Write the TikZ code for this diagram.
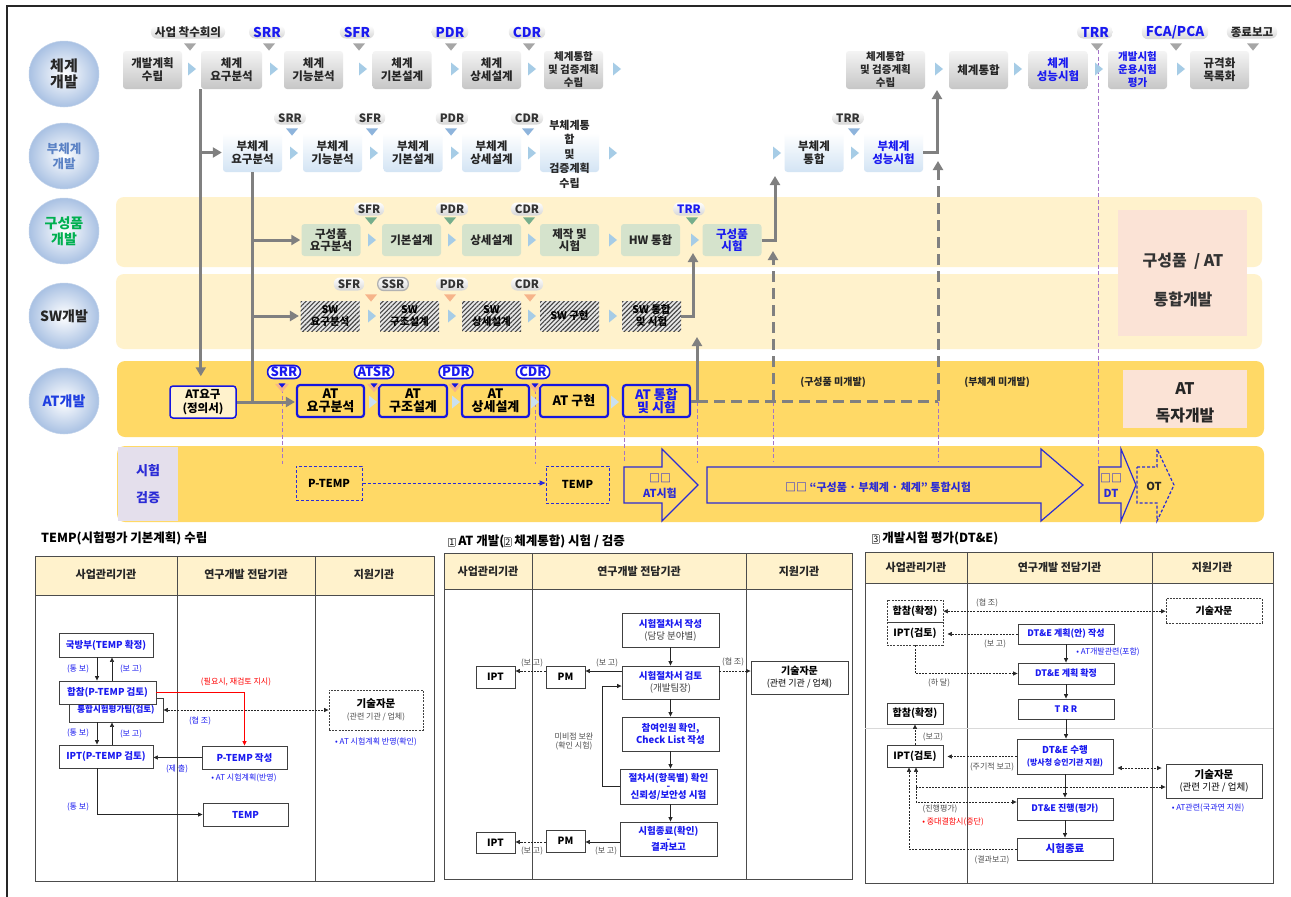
\documentclass[tikz,border=0pt]{standalone}
\usepackage{fontspec}
\setmainfont{Noto Sans CJK KR}
\usetikzlibrary{arrows.meta,patterns.meta,shapes.geometric}
\setlength{\fboxsep}{0.6pt}
\setlength{\fboxrule}{0.5pt}
\definecolor{bandL}{HTML}{FFF2CC}
\definecolor{bandD}{HTML}{FFD966}
\definecolor{pinkB}{HTML}{FBE3D6}
\definecolor{lav}{HTML}{E4DFEC}
\definecolor{tblue}{HTML}{1A1AF0}
\definecolor{ablue}{HTML}{2B2BD6}
\definecolor{bdblue}{HTML}{1515E0}
\definecolor{gline}{HTML}{808080}
\definecolor{purp}{HTML}{A474C8}
\definecolor{chev}{HTML}{A6CCE6}
\definecolor{triG}{HTML}{A6A6A6}
\definecolor{triB}{HTML}{8EB4DC}
\definecolor{triGr}{HTML}{76AE8C}
\definecolor{triO}{HTML}{F6B48A}
\definecolor{grn}{HTML}{D5E3CC}
\definecolor{lblue}{HTML}{D3E4F4}
\definecolor{hdr}{HTML}{FFF2CC}
\definecolor{circB}{HTML}{A9C1E3}
\definecolor{rtop}{HTML}{F4F4F4}
\definecolor{rbot}{HTML}{C6C6C6}
\newcommand\fs[2]{\fontsize{#1}{#2}\selectfont}
\newcommand\dtri[4]{\fill[#4] (#1-#3,#2-0.6*#3) -- (#1+#3,#2-0.6*#3) -- (#1,#2+0.6*#3) -- cycle;}
\newcommand\rchev[3]{\fill[#3] (#1-4,#2-6.5) -- (#1+4,#2) -- (#1-4,#2+6.5) -- cycle;}
\tikzset{
  rbase/.style={rounded corners=3pt, minimum width=59pt, inner xsep=1pt, inner ysep=0pt, align=center},
  r1box/.style={rbase, minimum height=38pt, top color=rtop, bottom color=rbot, font=\fs{11.5}{13}\bfseries, text=black!85},
  r2box/.style={rbase, minimum height=39pt, top color=white, bottom color=lblue, font=\fs{11.5}{13}\bfseries, text=black!85},
  r3box/.style={rbase, minimum height=32pt, fill=grn, font=\fs{11.5}{12.5}\bfseries, text=black!85},
  r4box/.style={rbase, rounded corners=0pt, minimum height=30pt, preaction={fill=gray!18},
     pattern={Lines[angle=45,distance=3.2pt,line width=1.1pt]}, pattern color=gray!55!black,
     font=\fs{10.5}{12}\bfseries, text=black},
  r5box/.style={rbase, minimum height=32pt, draw=bdblue, line width=2.2pt, font=\fs{13}{13.5}\bfseries, text=black},
  circ/.style={ellipse, minimum width=70pt, minimum height=66pt, inner sep=0pt, inner color=white,
     outer color=circB, draw=circB!70!white, line width=0.5pt, align=center},
  tag1/.style={rounded corners=6pt, top color=white, bottom color=gray!32, inner xsep=4pt, inner ysep=0.5pt,
     minimum height=13pt, font=\fs{13.5}{14}\bfseries, text=tblue},
  tag2/.style={tag1, font=\fs{11.5}{12}\bfseries, text=black!80},
  tag5/.style={rounded corners=6pt, draw=bdblue, line width=1.6pt, fill=white, inner xsep=3pt, inner ysep=0.5pt,
     minimum height=13pt, font=\fs{13}{13}\bfseries, text=tblue},
  gl/.style={draw=gline, line width=3pt},
  ga/.style={gl, -{Triangle[length=9pt,width=10pt]}},
  gdl/.style={gl, dash pattern=on 11pt off 6pt},
  gd/.style={ga, dash pattern=on 11pt off 6pt},
  pl/.style={draw=purp, line width=0.8pt, dash pattern=on 4pt off 2.5pt},
  bar/.style={draw=ablue, line width=1.2pt, line join=miter},
  tbl/.style={draw=black!70, line width=1pt},
  pb/.style={draw=black!75, line width=0.9pt, fill=white, inner sep=0pt, align=center, font=\fs{9.5}{12}\bfseries, text=tblue},
  pbk/.style={pb, text=black},
  pdash/.style={pb, dash pattern=on 2pt off 1.2pt},
  lbl/.style={font=\fs{8}{9}, text=black!70},
  lblb/.style={font=\fs{8}{9}, text=tblue},
  hdrtxt/.style={font=\fs{11}{12}\bfseries, text=black!85},
  ttl/.style={anchor=west, font=\fs{12.5}{14}\bfseries, text=black},
  ta/.style={draw=black!85, line width=0.7pt, -{Triangle[length=4.5pt,width=4pt]}},
  tda/.style={ta, dash pattern=on 2pt off 1.2pt},
  tdd/.style={tda, {Triangle[length=4.5pt,width=4pt]}-{Triangle[length=4.5pt,width=4pt]}},
}
\begin{document}
\begin{tikzpicture}[x=1pt,y=-1pt, every node/.append style={inner sep=0pt, align=center}]
\fill[white] (0,0) rectangle (1291,897);
\useasboundingbox (0,0) rectangle (1291,897);
\draw[black!85, line width=2pt] (7,897) -- (7,6) -- (1291,6);

% bands
\fill[bandL, rounded corners=8pt] (116,197) rectangle (1262,267);
\fill[bandL, rounded corners=8pt] (116,274) rectangle (1262,349);
\fill[bandD, rounded corners=8pt] (117,361) rectangle (1264,437);
\fill[bandD, rounded corners=8pt] (117,446) rectangle (1264,522);
\node[fill=lav, minimum width=60pt, minimum height=74pt, font=\fs{13}{27}\bfseries, text=ablue] (VV) at (148,484) {시험\\검증};

% pink boxes
\node[fill=pinkB, minimum width=129pt, minimum height=126pt] (P1) at (1182.5,273) {};
\node[font=\fs{16}{18}\bfseries, text=black!80] (P1a) at (1183,261) {구성품 \ / AT};
\node[font=\fs{16}{18}\bfseries, text=black!80] (P1b) at (1183,299) {통합개발};
\node[fill=pinkB, minimum width=124pt, minimum height=58pt] (P2) at (1185,399) {};
\node[font=\fs{16}{18}\bfseries, text=black!85] (P2a) at (1185,389) {AT};
\node[font=\fs{16}{18}\bfseries, text=black!85] (P2b) at (1185,416) {독자개발};

% row circles
\node[circ, font=\fs{15}{16}\bfseries, text=black!85] (L1) at (64,74) {체계\\개발};
\node[circ, font=\fs{12.5}{15}\bfseries, text={rgb,255:red,91;green,130;blue,197}] (L2) at (64,156) {부체계\\개발};
\node[circ, font=\fs{14}{16}\bfseries, text={rgb,255:red,0;green,176;blue,80}] (L3) at (64,231) {구성품\\개발};
\node[circ, font=\fs{14}{16}\bfseries, text=black!85] (L4) at (64,316) {SW개발};
\node[circ, font=\fs{14}{16}\bfseries, text={rgb,255:red,31;green,63;blue,224}] (L5) at (64,401) {AT개발};

% purple dashed guide lines
\draw[pl] (282,389) -- (282,464);
\draw[pl] (535,390) -- (535,464);
\draw[pl] (624,418) -- (624,463);
\draw[pl] (697,402) -- (697,463);
\draw[pl] (773,402) -- (773,462);
\draw[pl] (938,402) -- (938,461);
\draw[pl] (1098,50) -- (1098,467);

% row 1
\node[r1box] (A1) at (152.5,70) {개발계획\\수립};
\node[r1box, minimum width=61pt] (A2) at (231.5,70) {체계\\요구분석};
\node[r1box] (A3) at (313.5,70) {체계\\기능분석};
\node[r1box] (A4) at (402,70) {체계\\기본설계};
\node[r1box] (A5) at (491.5,70) {체계\\상세설계};
\node[r1box, font=\fs{10.5}{13}\bfseries] (A6) at (573.5,70) {체계통합\\및 검증계획\\수립};
\node[r1box, minimum width=79pt, font=\fs{10.5}{13}\bfseries] (A7) at (885.5,70) {체계통합\\및 검증계획\\수립};
\node[r1box] (A8) at (978.5,70) {체계통합};
\node[r1box, text=tblue] (A9) at (1058,70) {체계\\성능시험};
\node[r1box, text=tblue, font=\fs{10.5}{13}\bfseries] (A10) at (1137.5,70) {개발시험\\운용시험\\평가};
\node[r1box] (A11) at (1219.5,70) {규격화\\목록화};
\foreach \x in {192,274,363,455,532,617,939,1018,1099,1181} {\rchev{\x}{69}{chev}}

\node[tag1, text=black!85, font=\fs{11.5}{12}\bfseries] (K0) at (188,32) {사업 착수회의};
\node[tag1] (K1) at (267,32) {SRR};
\node[tag1] (K2) at (357,32) {SFR};
\node[tag1] (K3) at (450,32) {PDR};
\node[tag1] (K4) at (527,32) {CDR};
\node[tag1] (K5) at (1095,32) {TRR};
\node[tag1] (K6) at (1175,32) {FCA/PCA};
\node[tag1, text=black!85, font=\fs{11.5}{12}\bfseries] (K7) at (1252,32) {종료보고};
\foreach \x in {190,269,359,451,529,1097,1176,1253} {\dtri{\x}{47}{6}{triG}}

% row 2
\node[r2box] (B1) at (252.5,152.5) {부체계\\요구분석};
\node[r2box] (B2) at (332.5,152.5) {부체계\\기능분석};
\node[r2box] (B3) at (413,152.5) {부체계\\기본설계};
\node[r2box] (B4) at (491.5,152.5) {부체계\\상세설계};
\node[r2box] (B5) at (569.5,152.5) {};
\node[font=\fs{11}{14.5}\bfseries, text=black!85] (B5t) at (569.5,154) {부체계통\\합\\및\\검증계획\\수립};
\node[r2box] (B6) at (814,152.5) {부체계\\통합};
\node[r2box, text=tblue] (B7) at (893.5,152.5) {부체계\\성능시험};
\foreach \x in {294,374,455,532,613,777,855} {\rchev{\x}{153}{chev}}
\node[tag2] (M1) at (290,118) {SRR};
\node[tag2] (M2) at (370,118) {SFR};
\node[tag2] (M3) at (452,118) {PDR};
\node[tag2] (M4) at (527,118) {CDR};
\node[tag2] (M5) at (848,118) {TRR};
\foreach \x in {292,372,451,528,854} {\dtri{\x}{132}{6}{triB}}

% row 3
\node[r3box] (C1) at (331,240) {구성품\\요구분석};
\node[r3box] (C2) at (411.5,240) {기본설계};
\node[r3box] (C3) at (491.5,240) {상세설계};
\node[r3box] (C4) at (569.5,240) {제작 및\\시험};
\node[r3box] (C5) at (650.5,240) {HW 통합};
\node[r3box, text=tblue] (C6) at (732,240) {구성품\\시험};
\foreach \x in {372,452,532,613,695} {\rchev{\x}{240}{chev}}
\node[tag2] (N1) at (369,209) {SFR};
\node[tag2] (N2) at (452,209) {PDR};
\node[tag2] (N3) at (527,209) {CDR};
\node[tag2, text=tblue] (N4) at (689,209) {TRR};
\foreach \x in {371,450,529,692} {\dtri{\x}{221}{6}{triGr}}

% row 4
\node[r4box] (D1) at (330,316) {SW\\요구분석};
\node[r4box] (D2) at (409.5,316) {SW\\구조설계};
\node[r4box] (D3) at (491.5,316) {SW\\상세설계};
\node[r4box] (D4) at (569.5,316) {SW 구현};
\node[r4box] (D5) at (651.5,316) {SW 통합\\및 시험};
\foreach \x in {372,452,532,613} {\rchev{\x}{316}{chev}}
\node[tag2] (O1) at (349,284) {SFR};
\node[tag2, draw=gray!60, line width=1.3pt] (O2) at (393,284) {SSR};
\node[tag2] (O3) at (452,284) {PDR};
\node[tag2] (O4) at (527,284) {CDR};
\foreach \x in {371,450,530} {\dtri{\x}{298}{6}{triO}}

% row 5
\node[r5box, line width=1.5pt, fill=bandL, minimum width=66pt, font=\fs{11.5}{14}\bfseries] (E0) at (203,402) {AT요구\\(정의서)};
\node[r5box, minimum width=67pt] (E1) at (330.5,401) {AT\\요구분석};
\node[r5box, minimum width=68pt] (E2) at (413,401) {AT\\구조설계};
\node[r5box, minimum width=67pt] (E3) at (495.5,401) {AT\\상세설계};
\node[r5box, minimum width=68pt] (E4) at (574,401) {AT 구현};
\node[r5box, minimum width=67pt, text=tblue] (E5) at (656.5,401) {AT 통합\\및 시험};
\foreach \x in {373,456,535,615} {\rchev{\x}{402}{chev!60}}
\node[tag5] (S1) at (284,372) {SRR};
\node[tag5] (S2) at (374,372) {ATSR};
\node[tag5] (S3) at (456,372) {PDR};
\node[tag5] (S4) at (533,372) {CDR};
\foreach \x in {282,374,455,535} {\dtri{\x}{388}{7}{triO}\dtri{\x}{385.5}{3.5}{bdblue}}
\node[font=\fs{10}{11}\bfseries, text=black!85] (U1) at (833,382) {(구성품 미개발)};
\node[font=\fs{10}{11}\bfseries, text=black!85] (U2) at (997,382) {(부체계 미개발)};

% grey process connectors
\coordinate (t1) at (697,337);
\coordinate (t2) at (693,253);
\coordinate (t3) at (775,176);
\coordinate (t4) at (937,90);
\coordinate (j1) at (697,401);
\coordinate (j2) at (938,401);
\coordinate (j3) at (773,401);
\coordinate (t5) at (773,251);
\coordinate (t6) at (938,161);
\draw[ga, shorten >=9pt] (A2.south west) -- (A2.south west |- E0.north);
\draw[ga, shorten >=1pt] (A2.south west |- B1.west) -- (B1.west);
\draw[gl] (B1.south) -- (B1.south |- E0.east);
\draw[ga, shorten >=1pt] (B1.south |- C1.west) -- (C1.west);
\draw[ga, shorten >=1pt] (B1.south |- D1.west) -- (D1.west);
\draw[ga, shorten >=1pt] (E0.east) -- (E0.east -| E1.west);
\draw[ga] (E5.east) -| (t1);
\draw[ga] (D5.east) -| (t2);
\draw[ga] (C6.east) -| (t3);
\draw[ga] (B7.east) -| (t4);
\draw[gdl] (j1) -- (j2);
\draw[gd] (j3) -- (t5);
\draw[gd] (j2) -- (t6);

% row 6
\node[draw=ablue, line width=1pt, dash pattern=on 3pt off 2pt, minimum width=66pt, minimum height=34pt, font=\fs{11}{12}\bfseries] (F1) at (329,483) {P-TEMP};
\node[draw=ablue, line width=1pt, dash pattern=on 3pt off 2pt, minimum width=63pt, minimum height=37pt, font=\fs{11}{12}\bfseries] (F2) at (577.5,484.5) {TEMP};
\draw[ablue, line width=1pt, dash pattern=on 3pt off 2pt, -{Triangle[length=6pt,width=5pt]}] (F1.east) -- (F1.east -| F2.west);
\draw[bar] (624,467) -- (662,467) -- (662,449) -- (698,485) -- (662,521) -- (662,503) -- (624,503) -- cycle;
\draw[bar] (707,467) -- (1041,467) -- (1041,449) -- (1083,485) -- (1041,521) -- (1041,503) -- (707,503) -- cycle;
\draw[bar] (1099,467) -- (1121,467) -- (1121,449) -- (1136,485) -- (1121,521) -- (1121,503) -- (1099,503) -- cycle;
\draw[bar, dash pattern=on 3pt off 2pt] (1137,467) -- (1157,467) -- (1157,449) -- (1174,485) -- (1157,521) -- (1157,503) -- (1137,503) -- cycle;
\node[font=\fs{11}{15}\bfseries, text=ablue] (H1) at (660,486) {□□\\AT시험};
\node[font=\fs{11}{15}\bfseries, text=ablue] (H2) at (878,487) {□□ “구성품 · 부체계 · 체계” 통합시험};
\node[font=\fs{11}{15}\bfseries, text=ablue] (H3) at (1111,486) {□□\\DT};
\node[font=\fs{11}{15}\bfseries, text=black!85] (H4) at (1154,486) {OT};

% ================= Panel 1 =================
\node[ttl] (T1) at (41,538) {TEMP(시험평가 기본계획) 수립};
\fill[hdr] (35,556) rectangle (434,595);
\draw[tbl] (35,556) rectangle (434,881);
\draw[tbl] (35,595) -- (434,595);
\draw[tbl] (177,556) -- (177,881);
\draw[tbl] (315,556) -- (315,881);
\node[hdrtxt] (h11) at (106,574) {사업관리기관};
\node[hdrtxt] (h12) at (246,574) {연구개발 전담기관};
\node[hdrtxt] (h13) at (374,574) {지원기관};
\coordinate (x97) at (97,0);
\coordinate (x112) at (112,0);
\node[pb, minimum width=94pt, minimum height=24pt] (n1) at (106,645) {국방부(TEMP 확정)};
\node[pb, minimum width=94pt, minimum height=24pt, font=\fs{8.5}{10}\bfseries] (n3) at (116,710) {통합시험평가팀(검토)};
\node[pb, minimum width=97pt, minimum height=23pt] (n2) at (107.5,692.5) {합참(P-TEMP 검토)};
\node[pb, minimum width=94pt, minimum height=23pt] (n4) at (106,756.5) {IPT(P-TEMP 검토)};
\node[pb, minimum width=85pt, minimum height=23pt] (n5) at (244.5,757.5) {P-TEMP 작성};
\node[pb, minimum width=85pt, minimum height=23pt] (n6) at (245.5,814.5) {TEMP};
\node[pdash, text=black, minimum width=94pt, minimum height=40pt] (n7) at (376,710) {{\fs{10.5}{13}\bfseries 기술자문}\\{\fs{8}{10}\mdseries\color{black!70}(관련 기관 / 업체)}};
\node[lblb] (l1) at (78,669) {(통 보)};
\node[lblb] (l2) at (131,669) {(보 고)};
\node[lblb] (l3) at (78,733) {(통 보)};
\node[lblb] (l4) at (131,734) {(보 고)};
\node[font=\fs{8}{9}, text=red] (l5) at (236,682) {(필요시, 재검토 지시)};
\node[lblb] (l6) at (200,721) {(협 조)};
\node[lblb] (l7) at (177,769) {(제 출)};
\node[lblb] (l8) at (78,807) {(통 보)};
\node[lblb] (l9) at (376,742) {• AT 시험계획 반영(확인)};
\node[lblb] (l10) at (244,778) {• AT 시험계획(반영)};
\draw[ta] (n1.south -| x97) -- (n2.north -| x97);
\draw[ta] (n2.north -| x112) -- (n1.south -| x112);
\draw[ta] (n3.south -| x97) -- (n4.north -| x97);
\draw[ta] (n4.north -| x112) -- (n3.south -| x112);
\draw[ta, draw=red] (n2.east) -| (n5.north);
\draw[tdd] (n3.east) -- (n3.east -| n7.west);
\draw[ta] (n5.west) -- (n5.west -| n4.east);
\draw[ta] (n4.south -| x97) |- (n6.west);

% ================= Panel 2 =================
\node[ttl] (T2) at (448,541) {\fcolorbox{gray}{white}{\mdseries\fs{9}{9}1} AT 개발(\fcolorbox{gray}{white}{\mdseries\fs{9}{9}2} 체계통합) 시험 / 검증};
\fill[hdr] (444,553) rectangle (852,589);
\draw[tbl] (444,553) rectangle (852,879);
\draw[tbl] (444,589) -- (852,589);
\draw[tbl] (532,553) -- (532,879);
\draw[tbl] (746,553) -- (746,879);
\node[hdrtxt] (h21) at (488,571) {사업관리기관};
\node[hdrtxt] (h22) at (639,571) {연구개발 전담기관};
\node[hdrtxt] (h23) at (799,571) {지원기관};
\coordinate (y671) at (0,671);
\coordinate (y686) at (0,686);
\coordinate (y842) at (0,842);
\coordinate (fb) at (602,0);
\node[pb, minimum width=97pt, minimum height=34pt] (p1) at (670.5,630) {시험절차서 작성\\{\mdseries\color{black!75}(담당 분야별)}};
\node[pb, minimum width=97pt, minimum height=33pt] (p2) at (670.5,682.5) {시험절차서 검토\\{\mdseries\color{black!75}(개발팀장)}};
\node[pb, minimum width=97pt, minimum height=34pt] (p3) at (670.5,734) {참여인원 확인,\\Check List 작성};
\node[pb, minimum width=97pt, minimum height=35pt, font=\fs{9.5}{10}\bfseries] (p4) at (668.5,786.5) {절차서(항목별) 확인\\[-1.5pt]-\\[-1.5pt]신뢰성/보안성 시험};
\node[pb, minimum width=97pt, minimum height=34pt, font=\fs{9.5}{10}\bfseries] (p5) at (668.5,839) {시험종료(확인)\\[-2pt]-\\[-2pt]결과보고};
\node[pbk, minimum width=39pt, minimum height=22pt, font=\fs{10}{11}\bfseries] (PM1) at (565.5,677) {PM};
\node[pbk, minimum width=39pt, minimum height=22pt, font=\fs{10}{11}\bfseries] (IPT1) at (495.5,677) {IPT};
\node[pbk, minimum width=39pt, minimum height=22pt, font=\fs{10}{11}\bfseries] (PM2) at (565.5,841) {PM};
\node[pbk, minimum width=39pt, minimum height=21pt, font=\fs{10}{11}\bfseries] (IPT2) at (495.5,842.5) {IPT};
\node[pbk, minimum width=97pt, minimum height=33pt] (TA2) at (799.5,677.5) {{\fs{10}{12}\bfseries 기술자문}\\{\fs{9}{10}\mdseries (관련 기관 / 업체)}};
\node[lbl] (k1) at (607,663) {(보 고)};
\node[lbl] (k2) at (532,663) {(보 고)};
\node[lbl] (k3) at (733,662) {(협 조)};
\node[lbl] (k4) at (574,736) {미비점 보완};
\node[lbl] (k5) at (574,746) {(확인 시험)};
\node[lbl] (k6) at (606,851) {(보 고)};
\node[lbl] (k7) at (532,851) {(보 고)};
\draw[ta] (p1.south) -- (p2.north);
\draw[ta] (p2.south) -- (p3.north);
\draw[ta] (p3.south) -- (p3.south |- p4.north);
\draw[ta] (p4.south -| p3.south) -- (p3.south |- p5.north);
\draw[ta] (p2.west |- y671) -- (PM1.east |- y671);
\draw[tda] (PM1.west |- y671) -- (IPT1.east |- y671);
\draw[tda] (p2.east |- y671) -- (TA2.west |- y671);
\draw[ta] (p4.west) -- (p4.west -| fb) -- (fb |- y686) -- (p2.west |- y686);
\draw[ta] (p5.west |- y842) -- (PM2.east |- y842);
\draw[tda] (PM2.west |- y842) -- (IPT2.east |- y842);

% ================= Panel 3 =================
\node[ttl] (T3) at (872,538) {\fcolorbox{gray}{white}{\mdseries\fs{9}{9}3} 개발시험 평가(DT\&E)};
\fill[hdr] (865,552) rectangle (1273,583);
\draw[tbl] (865,552) rectangle (1273,883);
\draw[tbl] (865,583) -- (1273,583);
\draw[tbl] (967,552) -- (967,883);
\draw[tbl] (1152,552) -- (1152,883);
\draw[gray!30, line width=0.8pt] (865,728) -- (1273,728);
\node[hdrtxt] (h31) at (916,567) {사업관리기관};
\node[hdrtxt] (h32) at (1059.5,567) {연구개발 전담기관};
\node[hdrtxt] (h33) at (1212,567) {지원기관};
\coordinate (x916) at (916,0);
\coordinate (x909) at (909,0);
\coordinate (y802) at (0,802);
\coordinate (y787) at (0,787);
\coordinate (y768) at (0,768);
\node[pdash, text=black, minimum width=56pt, minimum height=22.5pt, font=\fs{10}{11}\bfseries] (q1) at (915,611.25) {합참(확정)};
\node[pdash, text=black, minimum width=56pt, minimum height=22.5pt, font=\fs{10}{11}\bfseries] (q2) at (915,633.75) {IPT(검토)};
\node[pb, minimum width=96pt, minimum height=20pt, font=\fs{9}{10}\bfseries] (q3) at (1066,634) {DT\&E 계획(안) 작성};
\node[pb, minimum width=96pt, minimum height=21pt, font=\fs{9}{10}\bfseries] (q4) at (1066,673.5) {DT\&E 계획 확정};
\node[pb, minimum width=96pt, minimum height=20pt, font=\fs{9}{10}\bfseries] (q5) at (1066,709) {T R R};
\node[pbk, minimum width=56pt, minimum height=21pt, font=\fs{10}{11}\bfseries] (q6) at (915,713.5) {합참(확정)};
\node[pbk, minimum width=56pt, minimum height=22pt, font=\fs{10}{11}\bfseries] (q7) at (915,756) {IPT(검토)};
\node[pb, minimum width=96pt, minimum height=35pt] (q8) at (1065,756.5) {{\fs{9.5}{14}DT\&E 수행}\\{\fs{8}{10}(방사청 승인기관 지원)}};
\node[pb, minimum width=96pt, minimum height=22pt, font=\fs{9}{10}\bfseries] (q9) at (1065,809) {DT\&E 진행(평가)};
\node[pb, minimum width=96pt, minimum height=22pt, font=\fs{10.5}{12}\bfseries] (q10) at (1065,849) {시험종료};
\node[pdash, text=black, minimum width=96pt, minimum height=25pt, font=\fs{10}{11}\bfseries] (q11) at (1214,610.5) {기술자문};
\node[pbk, minimum width=96pt, minimum height=34pt] (q12) at (1214,781) {{\fs{10.5}{13}\bfseries 기술자문}\\{\fs{9.5}{11}\mdseries (관련 기관 / 업체)}};
\node[lbl] (m1) at (987,603) {(협 조)};
\node[lbl] (m2) at (995,644) {(보 고)};
\node[lblb] (m3) at (1108,652) {• AT개발관련(포함)};
\node[lbl] (m4) at (939,683) {(하 달)};
\node[lbl] (m5) at (933,737) {(보고)};
\node[lbl] (m6) at (992,767) {(주기적 보고)};
\node[lbl] (m7) at (940,809) {(진행평가)};
\node[font=\fs{8}{9}, text=red] (m8) at (953,822) {• 중대결함시(중단)};
\node[lbl] (m9) at (992,860) {(결과보고)};
\node[lblb] (m10) at (1208,808) {• AT관련(국과연 지원)};
\draw[tdd] (q1.east) -- (q1.east -| q11.west);
\draw[tda, shorten >=4pt] (q3.west) -- (q3.west -| q2.east);
\draw[ta] (q3.south) -- (q4.north);
\draw[tda] (q2.south) |- (q4.west);
\draw[ta] (q4.south) -- (q5.north);
\draw[ta] (q5.south) -- (q5.south |- q8.north);
\draw[tda] (q7.north) -- (q6.south);
\draw[tda, shorten >=4pt] (q8.west) -- (q8.west -| q7.east);
\draw[tdd, shorten <=4pt, shorten >=4pt] (q8.east |- y768) -- (q12.west |- y768);
\draw[tdd] (q7.south -| x916) -- (x916 |- y802) -- (q9.west |- y802);
\draw[tda] (x916 |- y787) -- (q12.west |- y787);
\draw[tda] (q10.west) -| (q7.south -| x909);
\draw[ta] (q8.south) -- (q8.south |- q9.north);
\draw[ta] (q9.south) -- (q10.north);
\end{tikzpicture}
\end{document}
